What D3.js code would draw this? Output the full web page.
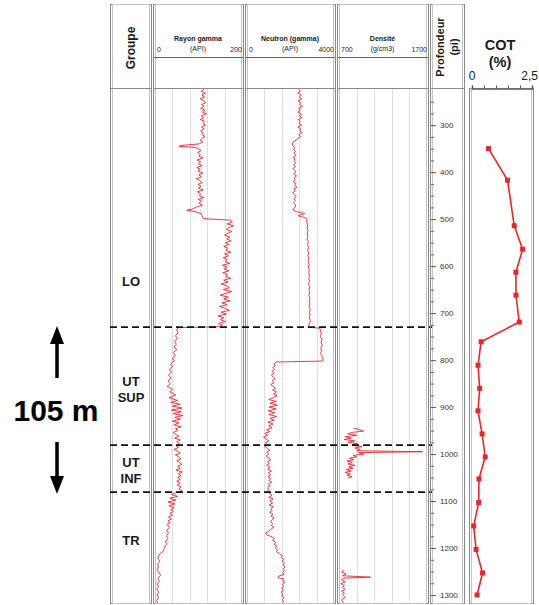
<!DOCTYPE html>
<html>
<head>
<meta charset="utf-8">
<script src="https://cdn.jsdelivr.net/npm/d3@7"></script>
<style>
  body { margin: 0; background: #fff; }
  text { font-family: "Liberation Sans", Arial, sans-serif; fill: #1a1a1a; }
</style>
</head>
<body>
<div id="chart"></div>
<script>
// ---- data ----
const depthTicks = [300, 400, 500, 600, 700, 800, 900, 1000, 1100, 1200, 1300];
const groupNames = [["LO"], ["UT", "SUP"], ["UT", "INF"], ["TR"]];
const groupLabelDepths = [632, 862, 1036, 1183];
const boundaryDepths = [730, 981, 1081];

const cotDepths = [350, 417, 514, 564, 613, 662, 719, 761, 811, 860, 908, 957, 1006, 1053, 1103, 1153, 1203, 1253, 1300];
const cotValues = [0.69, 1.48, 1.76, 2.11, 1.83, 1.83, 1.97, 0.38, 0.25, 0.32, 0.25, 0.42, 0.55, 0.29, 0.28, 0.07, 0.17, 0.44, 0.21];

// [depth (pi), API]
const gammaLog = [[224,112],[228,106],[232,116],[236,108],[240,114],[244,104],[248,112],[252,117],[256,107],[260,113],[264,105],[268,115],[272,109],[276,118],[280,106],[284,112],[288,104],[292,114],[296,110],[300,116],[304,107],[308,113],[312,105],[316,111],[320,108],[324,115],[328,109],[332,104],[336,110],[340,101],[343,60],[345,55],[347,90],[350,99],[354,106],[358,98],[362,104],[366,101],[370,110],[374,97],[378,105],[382,100],[386,108],[390,96],[394,104],[398,99],[402,110],[406,101],[410,107],[414,95],[418,103],[422,109],[426,99],[430,106],[434,100],[438,111],[442,98],[446,105],[450,102],[454,112],[458,99],[462,107],[466,101],[470,109],[474,96],[478,88],[481,73],[484,92],[488,106],[492,108],[496,110],[499,112],[502,172],[506,178],[510,166],[514,181],[518,170],[522,164],[526,176],[530,168],[534,160],[538,172],[542,165],[546,175],[550,162],[554,170],[558,158],[562,168],[566,163],[570,174],[574,160],[578,169],[582,157],[586,166],[590,161],[594,172],[598,155],[602,165],[606,159],[610,170],[614,156],[618,167],[622,162],[626,174],[630,158],[634,168],[638,152],[642,165],[646,171],[650,157],[654,176],[658,162],[662,150],[666,169],[670,158],[674,173],[678,154],[682,166],[686,148],[690,162],[694,171],[698,152],[702,164],[706,145],[710,158],[714,150],[718,162],[722,146],[726,155],[729,145],[731,52],[736,50],[742,53],[748,47],[754,51],[760,45],[766,49],[772,44],[778,50],[784,42],[790,47],[796,40],[802,44],[808,36],[814,40],[820,33],[826,38],[832,31],[838,37],[844,30],[850,35],[856,28],[862,40],[868,34],[874,48],[880,32],[886,52],[890,36],[894,58],[898,40],[902,62],[906,38],[910,60],[914,42],[918,64],[922,45],[926,58],[930,40],[934,55],[938,44],[942,60],[946,47],[950,52],[954,42],[958,48],[962,55],[966,45],[970,58],[974,50],[978,56],[982,48],[986,54],[990,44],[994,52],[998,58],[1002,47],[1006,55],[1010,60],[1014,50],[1018,57],[1022,62],[1026,52],[1030,58],[1034,48],[1038,63],[1042,54],[1046,60],[1050,52],[1054,58],[1058,50],[1062,57],[1066,51],[1070,60],[1074,55],[1078,62],[1082,50],[1086,38],[1090,52],[1094,34],[1098,48],[1102,30],[1106,46],[1110,32],[1114,44],[1118,36],[1122,42],[1126,34],[1130,40],[1134,31],[1138,38],[1142,30],[1146,35],[1150,28],[1156,33],[1162,27],[1168,31],[1174,26],[1180,30],[1186,24],[1192,27],[1198,22],[1204,20],[1208,18],[1212,12],[1216,9],[1222,7],[1228,11],[1234,6],[1240,8],[1246,5],[1252,9],[1258,13],[1264,7],[1270,10],[1276,5],[1282,8],[1288,4],[1294,9],[1300,5],[1306,8],[1312,4],[1317,6]];

// [depth (pi), API neutron]
const neutronLog = [[224,2380],[228,2450],[232,2330],[236,2500],[240,2400],[244,2520],[248,2350],[252,2470],[256,2410],[260,2550],[264,2380],[268,2460],[272,2340],[276,2490],[280,2420],[284,2530],[288,2360],[292,2450],[296,2390],[300,2510],[304,2340],[308,2470],[312,2420],[316,2540],[320,2380],[324,2460],[328,2350],[332,2250],[336,2120],[340,2090],[344,2110],[348,2200],[352,2140],[356,2220],[360,2160],[364,2250],[368,2130],[372,2200],[376,2170],[380,2260],[384,2140],[388,2230],[392,2110],[396,2190],[400,2240],[404,2150],[408,2280],[412,2170],[416,2210],[420,2120],[424,2250],[428,2180],[432,2300],[436,2150],[440,2220],[444,2100],[448,2190],[452,2260],[456,2160],[460,2230],[464,2140],[468,2200],[472,2250],[476,2180],[480,2100],[484,2250],[486,2500],[488,2650],[490,2550],[492,2350],[494,2400],[496,2600],[498,2700],[500,2760],[506,2740],[512,2790],[518,2760],[524,2810],[530,2770],[536,2800],[542,2760],[548,2820],[554,2780],[560,2830],[566,2790],[572,2840],[578,2800],[584,2850],[590,2810],[596,2860],[602,2820],[608,2870],[614,2830],[620,2880],[626,2840],[632,2870],[638,2830],[644,2890],[650,2850],[656,2880],[662,2840],[668,2900],[674,2860],[680,2890],[686,2850],[692,2910],[698,2870],[704,2900],[710,2860],[716,2920],[722,2870],[728,2820],[730,2800],[732,3350],[738,3380],[744,3420],[750,3370],[756,3450],[762,3400],[768,3460],[774,3390],[780,3430],[786,3380],[792,3470],[798,3500],[802,3480],[804,1330],[808,1240],[812,1300],[816,1180],[820,1270],[824,1150],[828,1230],[832,1120],[836,1210],[840,1300],[844,1160],[848,1250],[852,1090],[856,1200],[860,1310],[864,1180],[868,1350],[872,1220],[876,1380],[880,1200],[884,1000],[888,1350],[892,1050],[896,1400],[900,1020],[904,1330],[908,980],[912,1280],[916,1000],[920,1360],[924,1060],[928,1250],[932,960],[936,1200],[940,1000],[944,1150],[948,900],[952,1050],[956,820],[960,950],[964,760],[968,880],[972,1000],[976,850],[980,960],[984,820],[988,940],[992,1050],[996,900],[1000,1000],[1004,880],[1008,980],[1012,1100],[1016,940],[1020,1030],[1024,900],[1028,1060],[1032,950],[1036,1120],[1040,980],[1044,1080],[1048,960],[1052,1100],[1056,1000],[1060,1140],[1064,980],[1068,1060],[1072,940],[1076,1020],[1080,900],[1084,1050],[1088,1150],[1092,1000],[1096,1200],[1100,1050],[1104,1180],[1108,1020],[1112,1220],[1116,1080],[1120,1160],[1124,1040],[1128,1200],[1132,1100],[1136,1250],[1140,1150],[1144,1080],[1148,1180],[1152,1120],[1156,1230],[1160,1100],[1164,1000],[1168,860],[1172,900],[1176,1150],[1180,1250],[1184,1180],[1188,1320],[1192,1250],[1196,1380],[1200,1300],[1204,1400],[1208,1350],[1212,1500],[1216,1620],[1220,1580],[1224,1680],[1228,1620],[1232,1720],[1236,1660],[1240,1750],[1244,1680],[1248,1720],[1252,1640],[1256,1700],[1260,1450],[1263,1420],[1266,1700],[1270,1650],[1274,1730],[1278,1620],[1282,1700],[1286,1590],[1290,1680],[1294,1560],[1298,1650],[1302,1600],[1306,1700],[1310,1620],[1314,1680],[1317,1640]];

// density only logged over two short intervals
const densityLogUpper = [[945,870],[948,930],[951,980],[954,850],[957,800],[960,900],[963,770],[966,840],[969,760],[972,880],[975,800],[978,910],[981,850],[984,960],[987,880],[990,940],[993,900],[995,1650],[997,920],[1000,980],[1003,860],[1006,900],[1009,820],[1012,870],[1015,790],[1018,850],[1021,800],[1024,880],[1027,810],[1030,860],[1033,780],[1036,840],[1039,770],[1042,830],[1045,790],[1048,850],[1051,800]];
const densityLogLower = [[1247,760],[1251,730],[1255,780],[1259,740],[1262,1060],[1264,750],[1268,730],[1272,770],[1276,720],[1280,760],[1284,740],[1288,770],[1292,730],[1296,760],[1300,740],[1305,770],[1310,730],[1317,750]];

// ---- layout ----
const W = 539, H = 605;
const topY = 4, headBottom = 88, bodyTop = 89, bottomY = 603;
const red = "#e8262b", frame = "#8a8a8a";

const svg = d3.select("#chart").append("svg")
    .attr("width", W)
    .attr("height", H);

const y = d3.scaleLinear().domain([223, 1317]).range([bodyTop, bottomY]);

const tracks = [
  { title: "Rayon gamma", unit: "(API)", x0: 153, x1: 243, domain: [0, 200], ends: ["0", "200"], logs: [gammaLog] },
  { title: "Neutron (gamma)", unit: "(API)", x0: 245, x1: 335, domain: [0, 4000], ends: ["0", "4000"], logs: [neutronLog] },
  { title: "Densit\u00e9", unit: "(g/cm3)", x0: 337, x1: 428, domain: [700, 1700], ends: ["700", "1700"], logs: [densityLogUpper, densityLogLower] }
];

// boxes with the doubled grey frame
function box(x0, x1, y0, y1) {
  svg.append("rect").attr("x", x0 + 0.5).attr("y", y0 + 0.5)
    .attr("width", x1 - x0).attr("height", y1 - y0)
    .style("fill", "none").style("stroke", frame).style("stroke-width", 1);
  svg.append("rect").attr("x", x0 + 2.5).attr("y", y0 + 0.5)
    .attr("width", x1 - x0 - 4).attr("height", y1 - y0)
    .style("fill", "none").style("stroke", "#c4c4c4").style("stroke-width", 1);
}

function headerLine(x0, x1) {
  svg.append("line").attr("x1", x0).attr("x2", x1 + 1)
    .attr("y1", headBottom + 0.5).attr("y2", headBottom + 0.5)
    .style("stroke", frame).style("stroke-width", 1.2);
}

// Groupe column
box(110, 151, topY, bottomY);
headerLine(110, 151);
svg.append("text")
    .attr("transform", "translate(135,48) rotate(-90)")
    .attr("text-anchor", "middle")
    .style("font-size", "12px").style("font-weight", "bold")
    .text("Groupe");

// log tracks
tracks.forEach(t => {
  const x = d3.scaleLinear().domain(t.domain).range([t.x0 + 2, t.x1 - 1]);

  // vertical gridlines
  svg.selectAll(null)
    .data(d3.range(1, 5).map(i => t.domain[0] + i * (t.domain[1] - t.domain[0]) / 5))
    .enter().append("line")
    .attr("x1", d => Math.round(x(d)) + 0.5).attr("x2", d => Math.round(x(d)) + 0.5)
    .attr("y1", headBottom).attr("y2", bottomY)
    .style("stroke", "#dedede").style("stroke-width", 1);

  box(t.x0, t.x1, topY, bottomY);
  headerLine(t.x0, t.x1);

  const cx = (t.x0 + t.x1) / 2;
  svg.append("text").attr("x", cx).attr("y", 41)
    .attr("text-anchor", "middle")
    .style("font-size", "7px").style("font-weight", "bold")
    .text(t.title);
  svg.append("text").attr("x", cx).attr("y", 51)
    .attr("text-anchor", "middle")
    .style("font-size", "7px")
    .text(t.unit);
  svg.append("text").attr("x", t.x0 + 4).attr("y", 52)
    .style("font-size", "7px").text(t.ends[0]);
  svg.append("text").attr("x", t.x1 - 1).attr("y", 52)
    .attr("text-anchor", "end")
    .style("font-size", "7px").text(t.ends[1]);
  svg.append("line")
    .attr("x1", t.x0 + 1).attr("x2", t.x1)
    .attr("y1", 57.5).attr("y2", 57.5)
    .style("stroke", red).style("stroke-width", 1.2);

  const line = d3.line().x(d => x(d[1])).y(d => y(d[0]));
  t.logs.forEach(log => {
    svg.append("path").datum(log)
      .attr("d", line)
      .style("fill", "none").style("stroke", red)
      .style("stroke-width", 0.9).style("stroke-linejoin", "round");
  });
});

// group boundaries and names
svg.selectAll(".boundary")
  .data(boundaryDepths)
  .enter().append("line")
  .attr("class", "boundary")
  .attr("x1", 110).attr("x2", 432)
  .attr("y1", d => y(d)).attr("y2", d => y(d))
  .style("stroke", "#111").style("stroke-width", 1.8)
  .style("stroke-dasharray", "7 4");

groupNames.forEach((names, i) => {
  const mid = y(groupLabelDepths[i]);
  const lab = svg.append("text")
    .attr("x", 131).attr("y", mid - (names.length - 1) * 8 + 4.5)
    .attr("text-anchor", "middle")
    .style("font-size", "13px").style("font-weight", "bold");
  names.forEach((n, j) => {
    lab.append("tspan").attr("x", 131).attr("dy", j === 0 ? 0 : 16).text(n);
  });
});

// depth column
box(430, 464, topY, bottomY);
headerLine(430, 464);
const depthHead = svg.append("text")
    .attr("transform", "translate(447,47) rotate(-90)")
    .attr("text-anchor", "middle")
    .style("font-size", "11px").style("font-weight", "bold");
depthHead.append("tspan").attr("x", 0).attr("dy", -3).text("Profondeur");
depthHead.append("tspan").attr("x", 0).attr("dy", 14).text("(pi)");

const minorTicks = d3.range(250, 1317, 25).filter(d => d % 100 !== 0);
svg.append("g")
    .attr("transform", "translate(431,0)")
    .call(d3.axisRight(y).tickValues(minorTicks).tickSize(3).tickFormat(""))
    .call(g => g.select(".domain").remove())
    .selectAll("line").style("stroke", "#666");
svg.append("g")
    .attr("transform", "translate(431,0)")
    .call(d3.axisRight(y).tickValues(depthTicks).tickSize(5).tickPadding(4).tickFormat(d3.format("d")))
    .call(g => g.select(".domain").remove())
    .call(g => g.selectAll("line").style("stroke", "#555"))
    .call(g => g.selectAll("text").style("font-size", "8px").style("font-family", "Liberation Sans, Arial, sans-serif").style("fill", "#333"));

// COT panel
const xc = d3.scaleLinear().domain([0, 2.5]).range([472, 532]);
box(469, 533, headBottom, bottomY);
svg.append("g")
    .attr("transform", "translate(0," + (headBottom + 0.5) + ")")
    .call(d3.axisTop(xc).tickValues(d3.range(0, 2.51, 0.5)).tickSize(3).tickFormat(""))
    .call(g => g.select(".domain").style("stroke", "#555").style("stroke-width", 1.5))
    .selectAll("line").style("stroke", "#555");
svg.append("text").attr("x", xc(0)).attr("y", 80)
    .attr("text-anchor", "middle")
    .style("font-size", "12px").text("0");
svg.append("text").attr("x", 538).attr("y", 80)
    .attr("text-anchor", "end")
    .style("font-size", "12px").text("2,5");
svg.append("text").attr("x", 500).attr("y", 50)
    .attr("text-anchor", "middle")
    .style("font-size", "14.5px").style("font-weight", "bold").text("COT");
svg.append("text").attr("x", 500).attr("y", 67)
    .attr("text-anchor", "middle")
    .style("font-size", "14.5px").style("font-weight", "bold").text("(%)");

const cotData = cotDepths.map((d, i) => ({ depth: d, cot: cotValues[i] }));
svg.append("path").datum(cotData)
    .attr("d", d3.line().x(d => xc(d.cot)).y(d => y(d.depth)))
    .style("fill", "none").style("stroke", red).style("stroke-width", 1.6);
svg.selectAll(".cot")
    .data(cotData)
    .enter().append("rect")
    .attr("class", "cot")
    .attr("x", d => xc(d.cot) - 2.5).attr("y", d => y(d.depth) - 2.5)
    .attr("width", 5).attr("height", 5)
    .style("fill", red);

// thickness annotation
const arrowX = 57;
svg.append("line").attr("x1", arrowX).attr("x2", arrowX)
    .attr("y1", 342).attr("y2", 378)
    .style("stroke", "#000").style("stroke-width", 3.5);
svg.append("path")
    .attr("d", `M${arrowX},326 L${arrowX - 7},344 L${arrowX + 7},344 Z`)
    .style("fill", "#000");
svg.append("line").attr("x1", arrowX).attr("x2", arrowX)
    .attr("y1", 442).attr("y2", 478)
    .style("stroke", "#000").style("stroke-width", 3.5);
svg.append("path")
    .attr("d", `M${arrowX},494 L${arrowX - 7},476 L${arrowX + 7},476 Z`)
    .style("fill", "#000");
svg.append("text").attr("x", 56).attr("y", 421)
    .attr("text-anchor", "middle")
    .style("font-size", "30px").style("font-weight", "bold").style("fill", "#000")
    .text("105 m");
</script>
</body>
</html>
